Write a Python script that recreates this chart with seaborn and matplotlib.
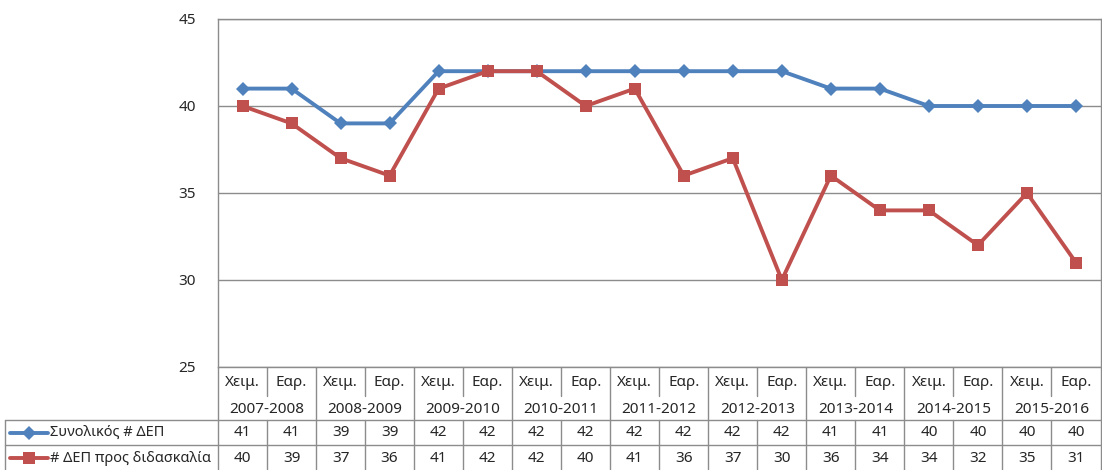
import pandas as pd
import numpy as np
import matplotlib.pyplot as plt
import seaborn as sns
from matplotlib.transforms import blended_transform_factory
from matplotlib.lines import Line2D

# data
years = ["2007-2008", "2008-2009", "2009-2010", "2010-2011", "2011-2012",
         "2012-2013", "2013-2014", "2014-2015", "2015-2016"]
seasons = ["Χειμ.", "Εαρ."]
total_dep = [41, 41, 39, 39, 42, 42, 42, 42, 42, 42, 42, 42, 41, 41, 40, 40, 40, 40]
teaching_dep = [40, 39, 37, 36, 41, 42, 42, 40, 41, 36, 37, 30, 36, 34, 34, 32, 35, 31]
series_names = ["Συνολικός # ΔΕΠ", "# ΔΕΠ προς διδασκαλία"]
colors = ["#4F81BD", "#C0504D"]
markers = ["D", "s"]

n = len(total_dep)
df = pd.DataFrame({
    "pos": list(range(n)) * 2,
    "value": total_dep + teaching_dep,
    "series": [series_names[0]] * n + [series_names[1]] * n,
})

sns.set_theme(style="white")
plt.rcParams['font.family'] = ['Noto Sans', 'DejaVu Sans']
FS = 11
GRID = "#8c8c8c"

W, H = 1102, 470
fig = plt.figure(figsize=(W / 100, H / 100), dpi=100)
left, right, top, bottom = 218, 1100.5, 19, 367
ax = fig.add_axes([left / W, 1 - bottom / H, (right - left) / W, (bottom - top) / H])

sns.lineplot(data=df, x="pos", y="value", hue="series", style="series",
             palette=dict(zip(series_names, colors)),
             markers=dict(zip(series_names, markers)), dashes=False,
             linewidth=2.8, markersize=8, markeredgewidth=0, legend=False, ax=ax)
# diamond a little smaller, like the original
ax.lines[0].set_markersize(7.5)

ax.set_xlim(-0.5, n - 0.5)
ax.set_ylim(25, 45)
ax.set_yticks([25, 30, 35, 40, 45])
ax.tick_params(axis="y", length=0, pad=16, labelsize=FS)
ax.set_xticks([])
ax.set_xlabel("")
ax.set_ylabel("")
ax.yaxis.grid(True, color=GRID, linewidth=1)
ax.set_axisbelow(True)
for s in ax.spines.values():
    s.set_color(GRID)
    s.set_linewidth(1)

# data table below the plot
tr = blended_transform_factory(ax.transData, fig.transFigure)
fy = lambda y: 1 - y / H
fx = lambda x: x / W
lkw = dict(color=GRID, linewidth=1, clip_on=False)

for i in range(n):
    ax.text(i, fy(382), seasons[i % 2], transform=tr, ha="center", va="center", fontsize=FS)
    ax.text(i, fy(432.5), str(total_dep[i]), transform=tr, ha="center", va="center", fontsize=FS)
    ax.text(i, fy(458), str(teaching_dep[i]), transform=tr, ha="center", va="center", fontsize=FS)
for j, yr in enumerate(years):
    ax.text(2 * j + 0.5, fy(409.5), yr, transform=tr, ha="center", va="center", fontsize=FS)

# vertical separators
for k in range(n + 1):
    b = k - 0.5
    if k % 2 == 0:
        fig.add_artist(Line2D([b, b], [fy(367), fy(470)], transform=tr, **lkw))
    else:
        fig.add_artist(Line2D([b, b], [fy(367), fy(396)], transform=tr, **lkw))
        fig.add_artist(Line2D([b, b], [fy(420), fy(470)], transform=tr, **lkw))

# horizontal rules
for y in (420, 445):
    fig.add_artist(Line2D([fx(5), fx(right)], [fy(y), fy(y)], transform=fig.transFigure, **lkw))
fig.add_artist(Line2D([fx(5), fx(5)], [fy(420), fy(470)], transform=fig.transFigure, **lkw))

# legend keys in the row headers
for name, c, m, yc, ms in zip(series_names, colors, markers, (432.5, 458), (7.5, 8)):
    fig.add_artist(Line2D([fx(10), fx(48)], [fy(yc), fy(yc)], transform=fig.transFigure,
                          color=c, linewidth=2.8, clip_on=False))
    fig.add_artist(Line2D([fx(29)], [fy(yc)], transform=fig.transFigure, color=c,
                          marker=m, markersize=ms, markeredgewidth=0, linestyle="none",
                          clip_on=False))
    fig.text(fx(50), fy(yc), name, ha="left", va="center", fontsize=10.5)

fig.savefig("out.png", dpi=100)
